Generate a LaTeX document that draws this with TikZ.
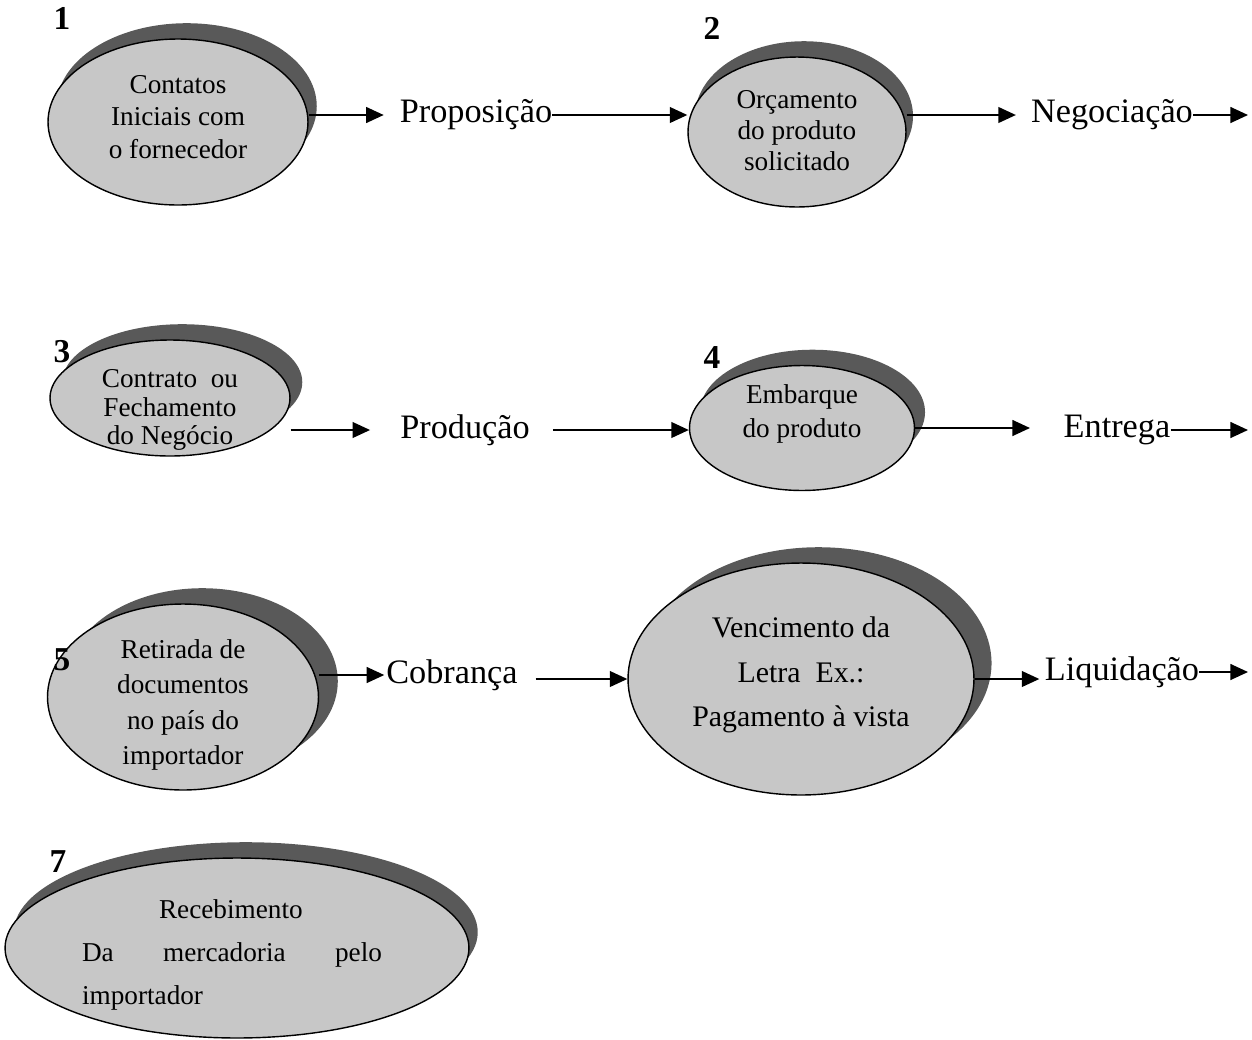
\documentclass[tikz,border=0pt]{standalone}
\usepackage{fontspec}
\setmainfont{Liberation Serif}
\usetikzlibrary{shapes.geometric,shadows,arrows.meta}

\begin{document}
\begin{tikzpicture}[x=0.02cm, y=-0.02cm,
		etapa/.style={ellipse, draw, line width=0.8pt, fill=black!22, inner sep=0pt,
			general shadow={shadow xshift=#1, shadow yshift=9pt, fill=black!65}},
		etapa/.default=5pt,
		texto/.style={inner sep=0pt, align=center, font=\fontsize{15.5}{#1}\selectfont},
		texto/.default=18pt,
		rotulo/.style={inner sep=0pt, font=\fontsize{19.5}{23}\selectfont},
		numero/.style={inner sep=0pt, font=\fontsize{19}{23}\selectfont\bfseries},
		seta/.style={-{Triangle[length=10pt,width=9pt]}, line width=1pt}]

		\useasboundingbox (0,0) rectangle (1252,1039);

		% Linha 1 - Contatos, Proposicao, Orcamento, Negociacao
		\node[etapa, minimum width=5.2cm, minimum height=3.32cm] (e1) at (178,122) {};
		\node[texto=18.7pt] (t1) at (178,117) {Contatos\\Iniciais com\\o fornecedor};
		\node[numero] (n1) at (62,18) {1};
		\node[rotulo] (prop) at (476,115) {Proposição};
		\node[etapa=4pt, minimum width=4.36cm, minimum height=3cm] (e2) at (797,132) {};
		\node[texto=17.6pt] (t2) at (797,131) {Orçamento\\do produto\\solicitado};
		\node[numero] (n2) at (712,28) {2};
		\node[rotulo] (neg) at (1112,115) {Negociação};
		\coordinate (fim1) at (1248,115);
		\draw[seta, shorten >=9pt] (prop.west -| e1.east) -- (prop.west);
		\draw[seta] (prop.east) -- (prop.east -| e2.west);
		\draw[seta, shorten >=8.5pt] (neg.west -| e2.east) -- (neg.west);
		\draw[seta] (neg.east) -- (neg.east -| fim1);

		% Linha 2 - Contrato, Producao, Embarque, Entrega
		\node[etapa=7pt, minimum width=4.8cm, minimum height=2.32cm] (e3) at (170,398) {};
		\node[texto=16pt] (t3) at (170,410) {Contrato\ \ ou\\Fechamento\\do Negócio};
		\node[numero] (n3) at (62,352) {3};
		\node[rotulo] (prod) at (465,430) {Produção};
		\node[etapa=6pt, minimum width=4.5cm, minimum height=2.5cm] (e4) at (802,428) {};
		\node[texto=19pt] (t4) at (802,414) {Embarque\\do produto};
		\node[numero] (n4) at (712,358) {4};
		\node[rotulo] (ent) at (1117,430) {Entrega};
		\coordinate (fim2) at (1248,425);
		\draw[seta, shorten >=17pt] (prod.west -| e3.east) -- (prod.west);
		\draw[seta, shorten <=13pt] (prod.east) -- (prod.east -| e4.west);
		\draw[seta, shorten >=19pt] (e4.east) -- (e4.east -| ent.west);
		\draw[seta] (ent.east) -- (ent.east -| fim2);

		% Linha 3 - Retirada, Cobranca, Vencimento, Liquidacao
		\node[etapa=11pt, minimum width=5.42cm, minimum height=3.72cm] (e5) at (183,697) {};
		\node[texto=20pt] (t5) at (183,705) {Retirada de\\documentos\\no país do\\importador};
		\node[numero] (n5) at (62,660) {5};
		\node[rotulo] (cob) at (452,675) {Cobrança};
		\node[etapa=10pt, minimum width=6.92cm, minimum height=4.64cm] (e6) at (801,679) {};
		\node[texto, font=\fontsize{17}{25.5}\selectfont] (t6) at (801,675) {Vencimento da\\Letra\ \ Ex.:\\Pagamento à vista};
		\node[rotulo] (liq) at (1122,672) {Liquidação};
		\coordinate (fim3) at (1248,672);
		\draw[seta, shorten >=1pt] (cob.west -| e5.east) -- (cob.west);
		\draw[seta, shorten <=10pt] (e6.west -| cob.east) -- (e6.west);
		\draw[seta, shorten >=3pt] (e6.east) -- (e6.east -| liq.west);
		\draw[seta] (liq.east) -- (liq.east -| fim3);

		% Linha 4 - Recebimento
		\node[etapa, minimum width=9.28cm, minimum height=3.6cm] (e7) at (237,948) {};
		\node[texto=24.4pt, align=left] (t7) at (232,955)
			{\hspace*{1.54cm}Recebimento\\\makebox[6cm][s]{Da mercadoria pelo}\\importador};
		\node[numero] (n7) at (58,862) {7};
	\end{tikzpicture}
\end{document}
